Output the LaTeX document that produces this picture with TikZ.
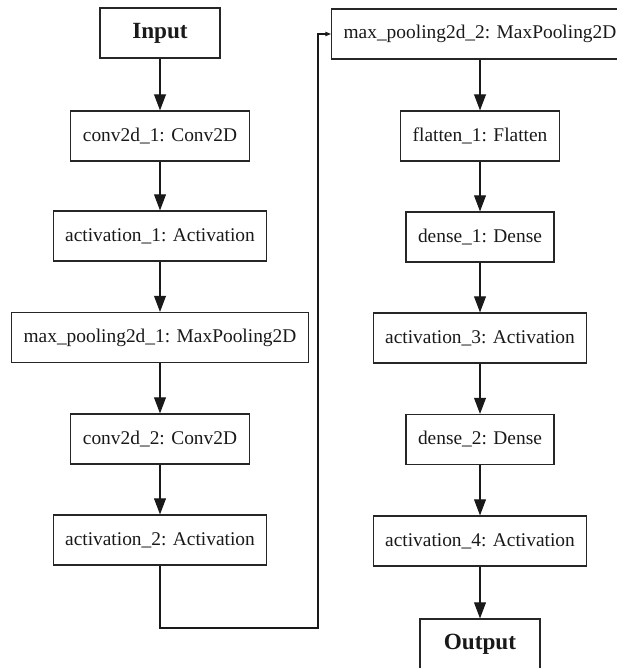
\documentclass[tikz,border=0pt]{standalone}
\usepackage{fontspec}
\setmainfont{Liberation Serif}
\usepackage{tikz}
\usetikzlibrary{arrows.meta}

\tikzset{
  layer/.style={draw=black!85, line width=0.8pt, inner xsep=0.3cm,
    minimum height=1.25cm, text=black!90,
    font=\fontsize{13.8}{16}\selectfont},
  io/.style={layer, minimum width=3cm,
    font=\fontsize{16.5}{19}\selectfont\bfseries},
  flow/.style={draw=black!90, line width=0.8pt,
    -{Triangle[length=11.5pt,width=8.5pt]}},
  jump/.style={draw=black!90, line width=0.8pt,
    -{Triangle[length=4pt,width=3pt]}}
}

\begin{document}
\begin{tikzpicture}[x=0.025cm,y=-0.025cm]
    \useasboundingbox (0,0) rectangle (616,668);
    % first column
    \node[io] (input) at (160,33) {Input};
    \node[layer] (conv1) at (160,136) {conv2d\_1: Conv2D};
    \node[layer] (act1) at (160,236) {activation\_1: Activation};
    \node[layer] (pool1) at (160,337.5) {max\_pooling2d\_1: MaxPooling2D};
    \node[layer] (conv2) at (160,439) {conv2d\_2: Conv2D};
    \node[layer] (act2) at (160,540) {activation\_2: Activation};
    % second column
    \node[layer] (pool2) at (480,34) {max\_pooling2d\_2: MaxPooling2D};
    \node[layer] (flat1) at (480,136) {flatten\_1: Flatten};
    \node[layer] (dense1) at (480,237) {dense\_1: Dense};
    \node[layer] (act3) at (480,338) {activation\_3: Activation};
    \node[layer] (dense2) at (480,439.5) {dense\_2: Dense};
    \node[layer] (act4) at (480,541) {activation\_4: Activation};
    \node[io] (output) at (480,644) {Output};
    \coordinate (bend) at (318,628);

    \draw[flow] (input) -- (conv1);
    \draw[flow] (conv1) -- (act1);
    \draw[flow] (act1) -- (pool1);
    \draw[flow] (pool1) -- (conv2);
    \draw[flow] (conv2) -- (act2);
    \draw[jump] (act2.south) |- (bend) |- (pool2.west);
    \draw[flow] (pool2) -- (flat1);
    \draw[flow] (flat1) -- (dense1);
    \draw[flow] (dense1) -- (act3);
    \draw[flow] (act3) -- (dense2);
    \draw[flow] (dense2) -- (act4);
    \draw[flow] (act4) -- (output);
  \end{tikzpicture}
\end{document}
